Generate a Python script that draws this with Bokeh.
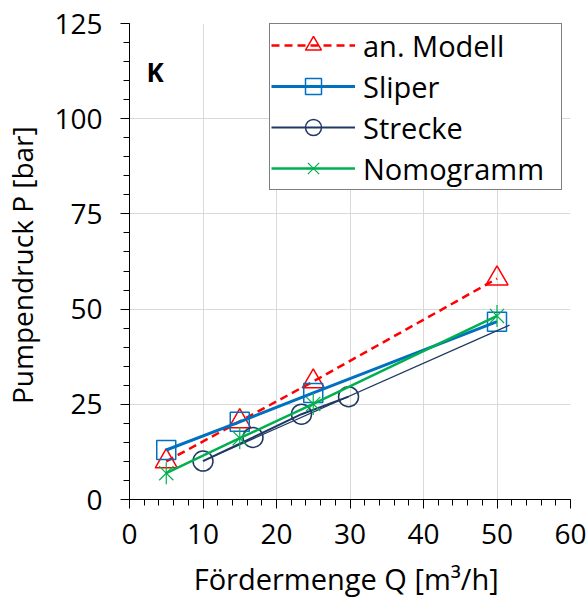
import math
from bokeh.plotting import figure
from bokeh.models import FixedTicker, Range1d, Label, Legend, LegendItem
from bokeh.embed import file_html
from bokeh.resources import INLINE

# ---- data ----
q_model = [5, 15, 25, 50]
p_model = [10.0, 20.5, 31.0, 58.0]

q_sliper = [5, 15, 25, 50]
p_sliper = [13.0, 20.4, 28.0, 46.7]

q_strecke = [10.0, 16.8, 23.4, 29.8]
p_strecke = [10.1, 16.3, 22.4, 27.0]
q_strecke_trend = [10.0, 51.7]
p_strecke_trend = [10.1, 45.8]

q_nomo = [5, 15, 25, 50]
p_nomo = [6.9, 16.1, 25.1, 48.2]

x_major = [0, 10, 20, 30, 40, 50, 60]
x_minor = list(range(0, 61, 2))
y_major = [0, 25, 50, 75, 100, 125]
y_minor = list(range(0, 126, 5))

series_names = ["an. Modell", "Sliper", "Strecke", "Nomogramm"]
panel_letter = "K"
x_title = "Fördermenge Q  [m³/h]"
y_title = "Pumpendruck P  [bar]"

FONT = "Open Sans"
RED = "#FF0000"
BLUE = "#0070C0"
NAVY = "#1F3864"
GREEN = "#00B050"

p = figure(width=588, height=600, x_range=Range1d(0, 60), y_range=Range1d(0, 125),
           output_backend="svg", toolbar_location=None,
           min_border_left=129, min_border_right=18, min_border_top=23, min_border_bottom=101)
p.outline_line_color = None
p.background_fill_color = "white"

for ax, maj, mnr in ((p.xaxis, x_major, x_minor), (p.yaxis, y_major, y_minor)):
    ax.ticker = FixedTicker(ticks=maj, minor_ticks=mnr)
    ax.axis_line_color = "black"
    ax.axis_line_width = 1
    ax.major_tick_line_color = "black"
    ax.minor_tick_line_color = "black"
    ax.major_tick_in = 0
    ax.major_tick_out = 9
    ax.minor_tick_in = 0
    ax.minor_tick_out = 6
    ax.major_label_text_font = FONT
    ax.major_label_text_font_size = "28px"
    ax.major_label_text_color = "black"
    ax.axis_label_text_font = FONT
    ax.axis_label_text_font_style = "normal"
    ax.axis_label_text_color = "black"

p.xaxis.axis_label = x_title
p.yaxis.axis_label = y_title
p.xaxis.axis_label_text_font_size = "29px"
p.yaxis.axis_label_text_font_size = "28px"
p.xaxis.major_label_standoff = 15
p.yaxis.major_label_standoff = 18
p.xaxis.axis_label_standoff = 12
p.yaxis.axis_label_standoff = 10

p.xgrid.ticker = FixedTicker(ticks=x_major)
p.ygrid.ticker = FixedTicker(ticks=y_major)
for g in (p.xgrid, p.ygrid):
    g.grid_line_color = "#D9D9D9"
    g.grid_line_width = 1

# ---- series ----
r_m_line = p.line(q_model, p_model, line_color=RED, line_width=2.5, line_dash="8 5")
r_m_mark = p.scatter(q_model, p_model, marker="triangle", size=22, fill_color=None,
                     line_color=RED, line_width=1.5)

r_s_line = p.line(q_sliper, p_sliper, line_color=BLUE, line_width=3)
r_s_mark = p.scatter(q_sliper, p_sliper, marker="square", size=19, fill_color=None,
                     line_color=BLUE, line_width=1.5)

r_t_trend = p.line(q_strecke_trend, p_strecke_trend, line_color=NAVY, line_width=1.25)
r_t_line = p.line(q_strecke, p_strecke, line_color=NAVY, line_width=2)
r_t_mark = p.scatter(q_strecke, p_strecke, marker="circle", size=20, fill_color=None,
                     line_color=NAVY, line_width=1.5)

r_n_line = p.line(q_nomo, p_nomo, line_color=GREEN, line_width=2.5)
r_n_x = p.scatter(q_nomo, p_nomo, marker="x", size=20, line_color=GREEN, line_width=1.2)
r_n_v = p.scatter(q_nomo, p_nomo, marker="dash", angle=math.pi / 2, size=22,
                  line_color=GREEN, line_width=1.2)

legend = Legend(items=[
    LegendItem(label=series_names[0], renderers=[r_m_line, r_m_mark]),
    LegendItem(label=series_names[1], renderers=[r_s_line, r_s_mark]),
    LegendItem(label=series_names[2], renderers=[r_t_line, r_t_mark]),
    LegendItem(label=series_names[3], renderers=[r_n_line, r_n_x, r_n_v]),
], location=(140, 309))
legend.label_text_font = FONT
legend.label_text_font_size = "29px"
legend.label_text_color = "black"
legend.border_line_color = "black"
legend.border_line_width = 1
legend.background_fill_color = "white"
legend.background_fill_alpha = 1
legend.padding = 1
legend.spacing = 1
legend.margin = 0
legend.glyph_width = 84
legend.glyph_height = 40
legend.label_height = 40
legend.label_standoff = 8
legend.label_width = 197
p.add_layout(legend)

p.add_layout(Label(x=2.3, y=112.3, text=panel_letter, text_font=FONT, text_font_size="26px",
                   text_font_style="bold", text_color="black", text_baseline="alphabetic"))

open("out.html", "w").write(file_html(p, INLINE))
